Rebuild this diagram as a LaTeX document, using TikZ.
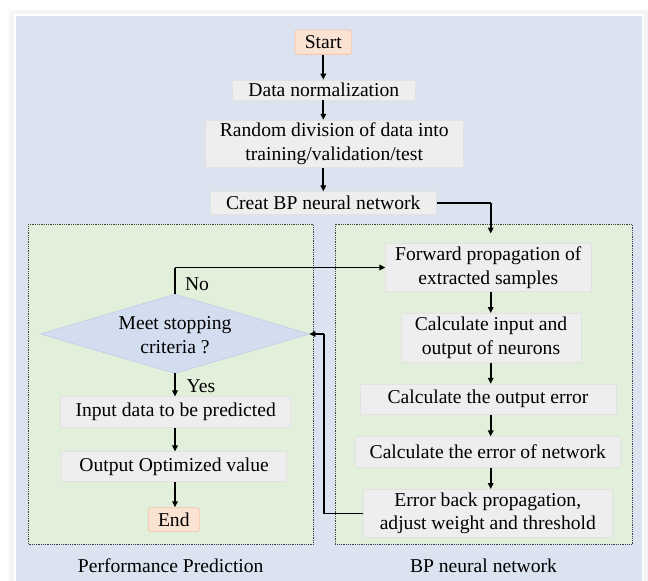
\documentclass[tikz,border=0pt]{standalone}
\usepackage{fontspec}
\setmainfont{Liberation Serif}
\usetikzlibrary{shapes.geometric,arrows.meta}
\definecolor{bgblue}{HTML}{DAE3EF}
\definecolor{panelgreen}{HTML}{E2EFDA}
\definecolor{boxgray}{HTML}{EEEEEE}
\definecolor{boxedge}{HTML}{E2E2E2}
\definecolor{peach}{HTML}{FBE3D4}
\definecolor{peachedge}{HTML}{F5C6A8}
\definecolor{diafill}{HTML}{D3DDF0}
\definecolor{diaedge}{HTML}{BCCCE8}
\tikzset{
  txt/.style={font=\fontsize{19.6}{23.5}\selectfont, align=center},
  procbox/.style={txt, rectangle, fill=boxgray, draw=boxedge, line width=0.6pt, inner sep=0pt},
  termbox/.style={txt, rectangle, rounded corners=2.5pt, fill=peach, draw=peachedge, line width=0.8pt, inner sep=0pt},
  decisionshape/.style={fill=diafill, draw=diaedge, line width=0.6pt},
  panel/.style={fill=panelgreen, draw=black!75, densely dotted, line width=0.8pt},
  arr/.style={-{Triangle[length=6pt,width=5.5pt]}, line width=1.8pt, black},
  conn/.style={line width=1.8pt, black},
}
\begin{document}
\begin{tikzpicture}[x=1pt,y=-1pt]
\useasboundingbox (0,0) rectangle (648,581);
% outer panel
\fill[black!4] (9,10) rectangle (648,581);
\draw[fill=bgblue, draw=white, line width=2.5pt] (15,15) rectangle (643,590);
% inner panels
\draw[panel] (28.3,224.3) rectangle (313.3,544.3);
\draw[panel] (335,224.3) rectangle (632.3,544.3);
% top column
\node[termbox, minimum width=56.7, minimum height=24.3] (start) at (323.3,42.2) {Start};
\node[procbox, minimum width=182.3, minimum height=20] (norm) at (323.8,90) {Data normalization};
\node[procbox, minimum width=258.3, minimum height=47.7] (div) at (334.2,143.9) {Random division of data into\\training/validation/test};
\node[procbox, minimum width=226.7, minimum height=22.6] (creat) at (323.3,203) {Creat BP neural network};
% right column
\node[procbox, minimum width=205.3, minimum height=48.4] (fwd) at (488.3,267.5) {Forward propagation of\\extracted samples};
\node[procbox, minimum width=180, minimum height=49.4] (calcio) at (491,338) {Calculate input and\\output of neurons};
\node[procbox, minimum width=256, minimum height=30.3] (outerr) at (488,399.2) {Calculate the output error};
\node[procbox, minimum width=264.3, minimum height=30.6] (neterr) at (487.8,452) {Calculate the error of network};
\node[procbox, minimum width=249, minimum height=48.4] (back) at (487.8,513.5) {Error back propagation,\\adjust weight and threshold};
% decision diamond
\coordinate (meetN) at (175,294.3);
\coordinate (meetS) at (175,373.3);
\coordinate (meetW) at (40.7,334);
\coordinate (meetE) at (309.3,334);
\draw[decisionshape] (meetN) -- (meetE) -- (meetS) -- (meetW) -- cycle;
\node[txt, inner sep=0pt] (meet) at (175,335) {Meet stopping\\criteria ?};
% left column
\node[procbox, minimum width=230, minimum height=30.6] (input) at (175.7,412) {Input data to be predicted};
\node[procbox, minimum width=225, minimum height=30] (outopt) at (174.2,466.7) {Output Optimized value};
\node[termbox, minimum width=51, minimum height=24] (end) at (173.8,519.7) {End};
% labels
\node[txt] (lblno) at (197,284) {No};
\node[txt] (lblyes) at (201,385.7) {Yes};
\node[txt] (lblpp) at (170.7,566) {Performance Prediction};
\node[txt] (lblbp) at (483.5,565.7) {BP neural network};
% coordinates
\coordinate (c1) at (490.7,203);
\coordinate (c1e) at (490.7,233.5);
\coordinate (c2) at (175,267.5);
\coordinate (c3) at (324,513.5);
\coordinate (c4) at (324,334);
% connectors
\draw[arr] (start.south) -- (start.south |- norm.north);
\draw[arr] (start.south |- norm.south) -- (start.south |- div.north);
\draw[arr] (start.south |- div.south) -- (start.south |- creat.north);
\draw[conn] (creat.east) -- (c1);
\draw[arr] (c1) -- (c1e);
\draw[arr] (c1 |- fwd.south) -- (c1 |- calcio.north);
\draw[arr] (c1 |- calcio.south) -- (c1 |- outerr.north);
\draw[arr] (c1 |- outerr.south) -- (c1 |- neterr.north);
\draw[arr] (c1 |- neterr.south) -- (c1 |- back.north);
\draw[conn] (back.west) -- (c3) -- (c4);
\draw[arr] (c4) -- (meetE);
\draw[conn] (meetN) -- (c2);
\draw[arr] (c2) -- (fwd.west);
\draw[arr] (meetS) -- (meetS |- input.north);
\draw[arr] (meetS |- input.south) -- (meetS |- outopt.north);
\draw[arr] (meetS |- outopt.south) -- (meetS |- end.north);
\end{tikzpicture}
\end{document}
